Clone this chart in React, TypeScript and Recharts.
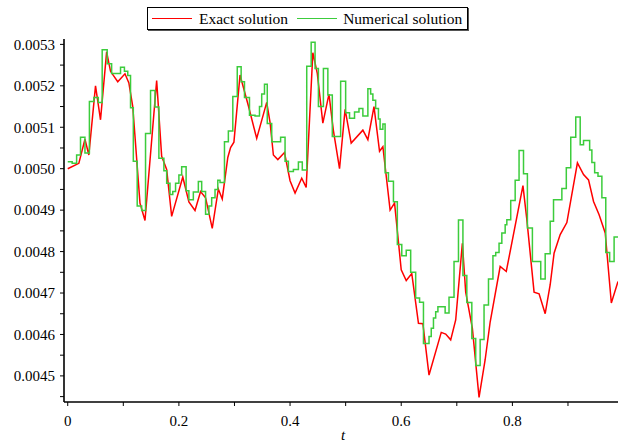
import { LineChart, Line, XAxis, YAxis, Legend } from "recharts";

// exact solution (red)
const exactT = [
  0.0, 0.02, 0.031, 0.038, 0.05, 0.059, 0.07, 0.077, 0.09, 0.103, 0.11, 0.117,
  0.13, 0.139, 0.16, 0.169, 0.178, 0.187, 0.207, 0.218, 0.229, 0.239, 0.248,
  0.26, 0.271, 0.278, 0.288, 0.293, 0.299, 0.31, 0.325, 0.34, 0.358, 0.364,
  0.37, 0.378, 0.39, 0.4, 0.409, 0.421, 0.429, 0.441, 0.449, 0.459, 0.47,
  0.478, 0.489, 0.499, 0.51, 0.531, 0.54, 0.551, 0.561, 0.567, 0.58, 0.588,
  0.6, 0.609, 0.619, 0.631, 0.639, 0.65, 0.672, 0.68, 0.689, 0.698, 0.71,
  0.716, 0.728, 0.74, 0.751, 0.76, 0.778, 0.789, 0.819, 0.826, 0.839, 0.848,
  0.859, 0.868, 0.875, 0.886, 0.898, 0.917, 0.928, 0.937, 0.946, 0.956,
  0.967, 0.978, 0.99,
];
const exactU = [
  0.005, 0.005013, 0.005071, 0.005033, 0.0052, 0.005118, 0.005282, 0.005235,
  0.00521, 0.005229, 0.005207, 0.00515, 0.004917, 0.004875, 0.005213, 0.00503,
  0.004998, 0.004885, 0.00498, 0.00492, 0.004899, 0.004945, 0.00493,
  0.004856, 0.004951, 0.004927, 0.005027, 0.005051, 0.005064, 0.005226,
  0.005152, 0.005073, 0.00516, 0.005112, 0.005033, 0.005022, 0.005039,
  0.004971, 0.004941, 0.004977, 0.004955, 0.00528, 0.00523, 0.00511, 0.00518,
  0.005092, 0.005, 0.005143, 0.005062, 0.005093, 0.00507, 0.00515, 0.005042,
  0.005053, 0.0049, 0.004917, 0.004756, 0.00473, 0.004747, 0.004627,
  0.004626, 0.004502, 0.004605, 0.004601, 0.004587, 0.004635, 0.00482,
  0.004702, 0.004615, 0.004448, 0.004539, 0.00463, 0.004764, 0.004752,
  0.004959, 0.004877, 0.004702, 0.004698, 0.00465, 0.00472, 0.004796,
  0.004841, 0.00487, 0.005014, 0.004986, 0.004973, 0.004921, 0.004889,
  0.004845, 0.004676, 0.004728,
];

// numerical solution (green), value held from each t to the next
const numT = [
  0.0, 0.008, 0.016, 0.023, 0.031, 0.039, 0.047, 0.055, 0.062, 0.071, 0.079,
  0.095, 0.102, 0.108, 0.113, 0.118, 0.125, 0.133, 0.14, 0.149, 0.157, 0.164,
  0.173, 0.178, 0.184, 0.189, 0.194, 0.2, 0.205, 0.213, 0.218, 0.226, 0.235,
  0.241, 0.248, 0.254, 0.259, 0.265, 0.27, 0.274, 0.282, 0.289, 0.297, 0.305,
  0.312, 0.318, 0.327, 0.337, 0.345, 0.349, 0.354, 0.359, 0.367, 0.383,
  0.391, 0.397, 0.406, 0.415, 0.422, 0.43, 0.438, 0.445, 0.451, 0.46, 0.468,
  0.476, 0.491, 0.5, 0.507, 0.516, 0.524, 0.531, 0.54, 0.545, 0.549, 0.554,
  0.559, 0.562, 0.567, 0.571, 0.577, 0.586, 0.593, 0.601, 0.609, 0.617,
  0.626, 0.633, 0.64, 0.65, 0.654, 0.658, 0.662, 0.666, 0.679, 0.686, 0.695,
  0.703, 0.711, 0.718, 0.727, 0.734, 0.742, 0.749, 0.757, 0.765, 0.77, 0.776,
  0.781, 0.787, 0.79, 0.797, 0.805, 0.812, 0.82, 0.827, 0.836, 0.851, 0.859,
  0.868, 0.874, 0.889, 0.897, 0.905, 0.914, 0.922, 0.928, 0.939, 0.943,
  0.948, 0.954, 0.961, 0.968, 0.975, 0.983, 0.99,
];
const numU = [
  0.005017, 0.005013, 0.005033, 0.005076, 0.005038, 0.005162, 0.005172,
  0.00516, 0.005287, 0.005253, 0.00523, 0.005245, 0.005235, 0.005225,
  0.005147, 0.005018, 0.00491, 0.004899, 0.005085, 0.005189, 0.005149,
  0.005025, 0.004995, 0.004965, 0.004938, 0.004945, 0.004965, 0.004985,
  0.005005, 0.004947, 0.004925, 0.004944, 0.004969, 0.004945, 0.00489,
  0.00491, 0.00493, 0.00495, 0.004972, 0.004967, 0.005065, 0.005091,
  0.005174, 0.005246, 0.00521, 0.005172, 0.005129, 0.005127, 0.00515,
  0.00518, 0.005204, 0.005109, 0.005065, 0.005076, 0.005018, 0.004993,
  0.004998, 0.005016, 0.004997, 0.005247, 0.005305, 0.005242, 0.00515,
  0.005242, 0.005178, 0.005078, 0.005211, 0.005135, 0.005122, 0.005137,
  0.005145, 0.005127, 0.005193, 0.00518, 0.005165, 0.005145, 0.00512,
  0.005095, 0.005108, 0.00499, 0.00497, 0.00492, 0.004817, 0.00479,
  0.004803, 0.00475, 0.004688, 0.004678, 0.004578, 0.004595, 0.004615,
  0.00464, 0.004655, 0.004667, 0.004652, 0.00469, 0.004776, 0.004876,
  0.004742, 0.004677, 0.00459, 0.004525, 0.004588, 0.004671, 0.004734,
  0.00479, 0.004798, 0.00482, 0.004845, 0.004865, 0.004877, 0.004923,
  0.004972, 0.005044, 0.004988, 0.004857, 0.004776, 0.004734, 0.004795,
  0.004873, 0.004925, 0.004952, 0.005002, 0.005076, 0.005125, 0.005058,
  0.005068, 0.005045, 0.005015, 0.00499, 0.004982, 0.00493, 0.004798,
  0.004776, 0.004835, 0.004835,
];

const xTicks = [0, 0.1, 0.2, 0.3, 0.4, 0.5, 0.6, 0.7, 0.8, 0.9];
const yTicks = [
  0.00445, 0.0045, 0.00455, 0.0046, 0.00465, 0.0047, 0.00475, 0.0048,
  0.00485, 0.0049, 0.00495, 0.005, 0.00505, 0.0051, 0.00515, 0.0052,
  0.00525, 0.0053,
];

const exactData = exactT.map((t, i) => ({ t, u: exactU[i] }));
const numData = numT.map((t, i) => ({ t, u: numU[i] }));

const font = "Liberation Serif";

const XTick = ({ x, y, payload }: any) => {
  const v = payload.value;
  const label = Math.round(v * 10) % 2 === 0 ? `${Math.round(v * 10) / 10}` : "";
  return (
    <text x={x} y={y} dy="0.71em" textAnchor="middle" fill="#000" fontSize={15} style={{ fontFamily: font }}>
      {label}
    </text>
  );
};

const YTick = ({ x, y, payload }: any) => {
  const v = payload.value;
  const label = Math.round(v * 1e5) % 10 === 0 ? v.toFixed(4) : "";
  return (
    <text x={x} y={y} dy="0.355em" textAnchor="end" fill="#000" fontSize={15} style={{ fontFamily: font }}>
      {label}
    </text>
  );
};

const TLabel = ({ viewBox }: any) => (
  <text
    x={viewBox.x + viewBox.width / 2 + 2}
    y={440}
    textAnchor="middle"
    fill="#000"
    fontSize={15}
    style={{ fontFamily: font, fontStyle: "italic" }}
  >
    t
  </text>
);

const LegendBox = () => (
  <div
    style={{
      width: 321,
      height: 23,
      boxSizing: "border-box",
      border: "1.5px solid #000",
      boxShadow: "1px 1px 0 #555",
      display: "flex",
      alignItems: "center",
      fontFamily: font,
      fontSize: 15.5,
      color: "#000",
      background: "#fff",
    }}
  >
    <span style={{ width: 40, height: 0, borderTop: "1.5px solid #ff0000", marginLeft: 4 }} />
    <span style={{ marginLeft: 7 }}>Exact solution</span>
    <span style={{ width: 40, height: 0, borderTop: "1.5px solid #3ccc3c", marginLeft: 9 }} />
    <span style={{ marginLeft: 6 }}>Numerical solution</span>
  </div>
);

export default function App() {
  return (
    <div style={{ position: "absolute", left: 0, top: 0, background: "#fff" }}>
      <LineChart width={618} height={442} margin={{ top: 39, right: 0, bottom: 0, left: 0 }}>
        <XAxis
          dataKey="t"
          type="number"
          domain={[-0.0067, 0.99]}
          ticks={xTicks}
          interval={0}
          height={40}
          tickSize={4}
          tickMargin={9}
          tick={<XTick />}
          axisLine={{ stroke: "#000", strokeWidth: 1.6 }}
          tickLine={{ stroke: "#000" }}
          label={<TLabel />}
        />
        <XAxis
          xAxisId="top"
          orientation="top"
          type="number"
          domain={[-0.0067, 0.99]}
          height={0}
          tick={false}
          tickLine={false}
          axisLine={{ stroke: "#000", strokeWidth: 1.6 }}
        />
        <YAxis
          type="number"
          domain={[0.004437, 0.005313]}
          ticks={yTicks}
          interval={0}
          width={64}
          tickSize={4}
          tickMargin={5}
          allowDataOverflow
          tick={<YTick />}
          axisLine={{ stroke: "#000", strokeWidth: 1.6 }}
          tickLine={{ stroke: "#000" }}
        />
        <Legend
          layout="horizontal"
          verticalAlign="middle"
          align="center"
          wrapperStyle={{ left: 147, top: 7, width: 321 }}
          content={() => <LegendBox />}
        />
        <Line
          data={exactData}
          dataKey="u"
          type="linear"
          stroke="#ff0000"
          strokeWidth={1.5}
          dot={false}
          isAnimationActive={false}
        />
        <Line
          data={numData}
          dataKey="u"
          type="stepAfter"
          stroke="#3ccc3c"
          strokeWidth={1.5}
          dot={false}
          isAnimationActive={false}
        />
      </LineChart>
    </div>
  );
}
